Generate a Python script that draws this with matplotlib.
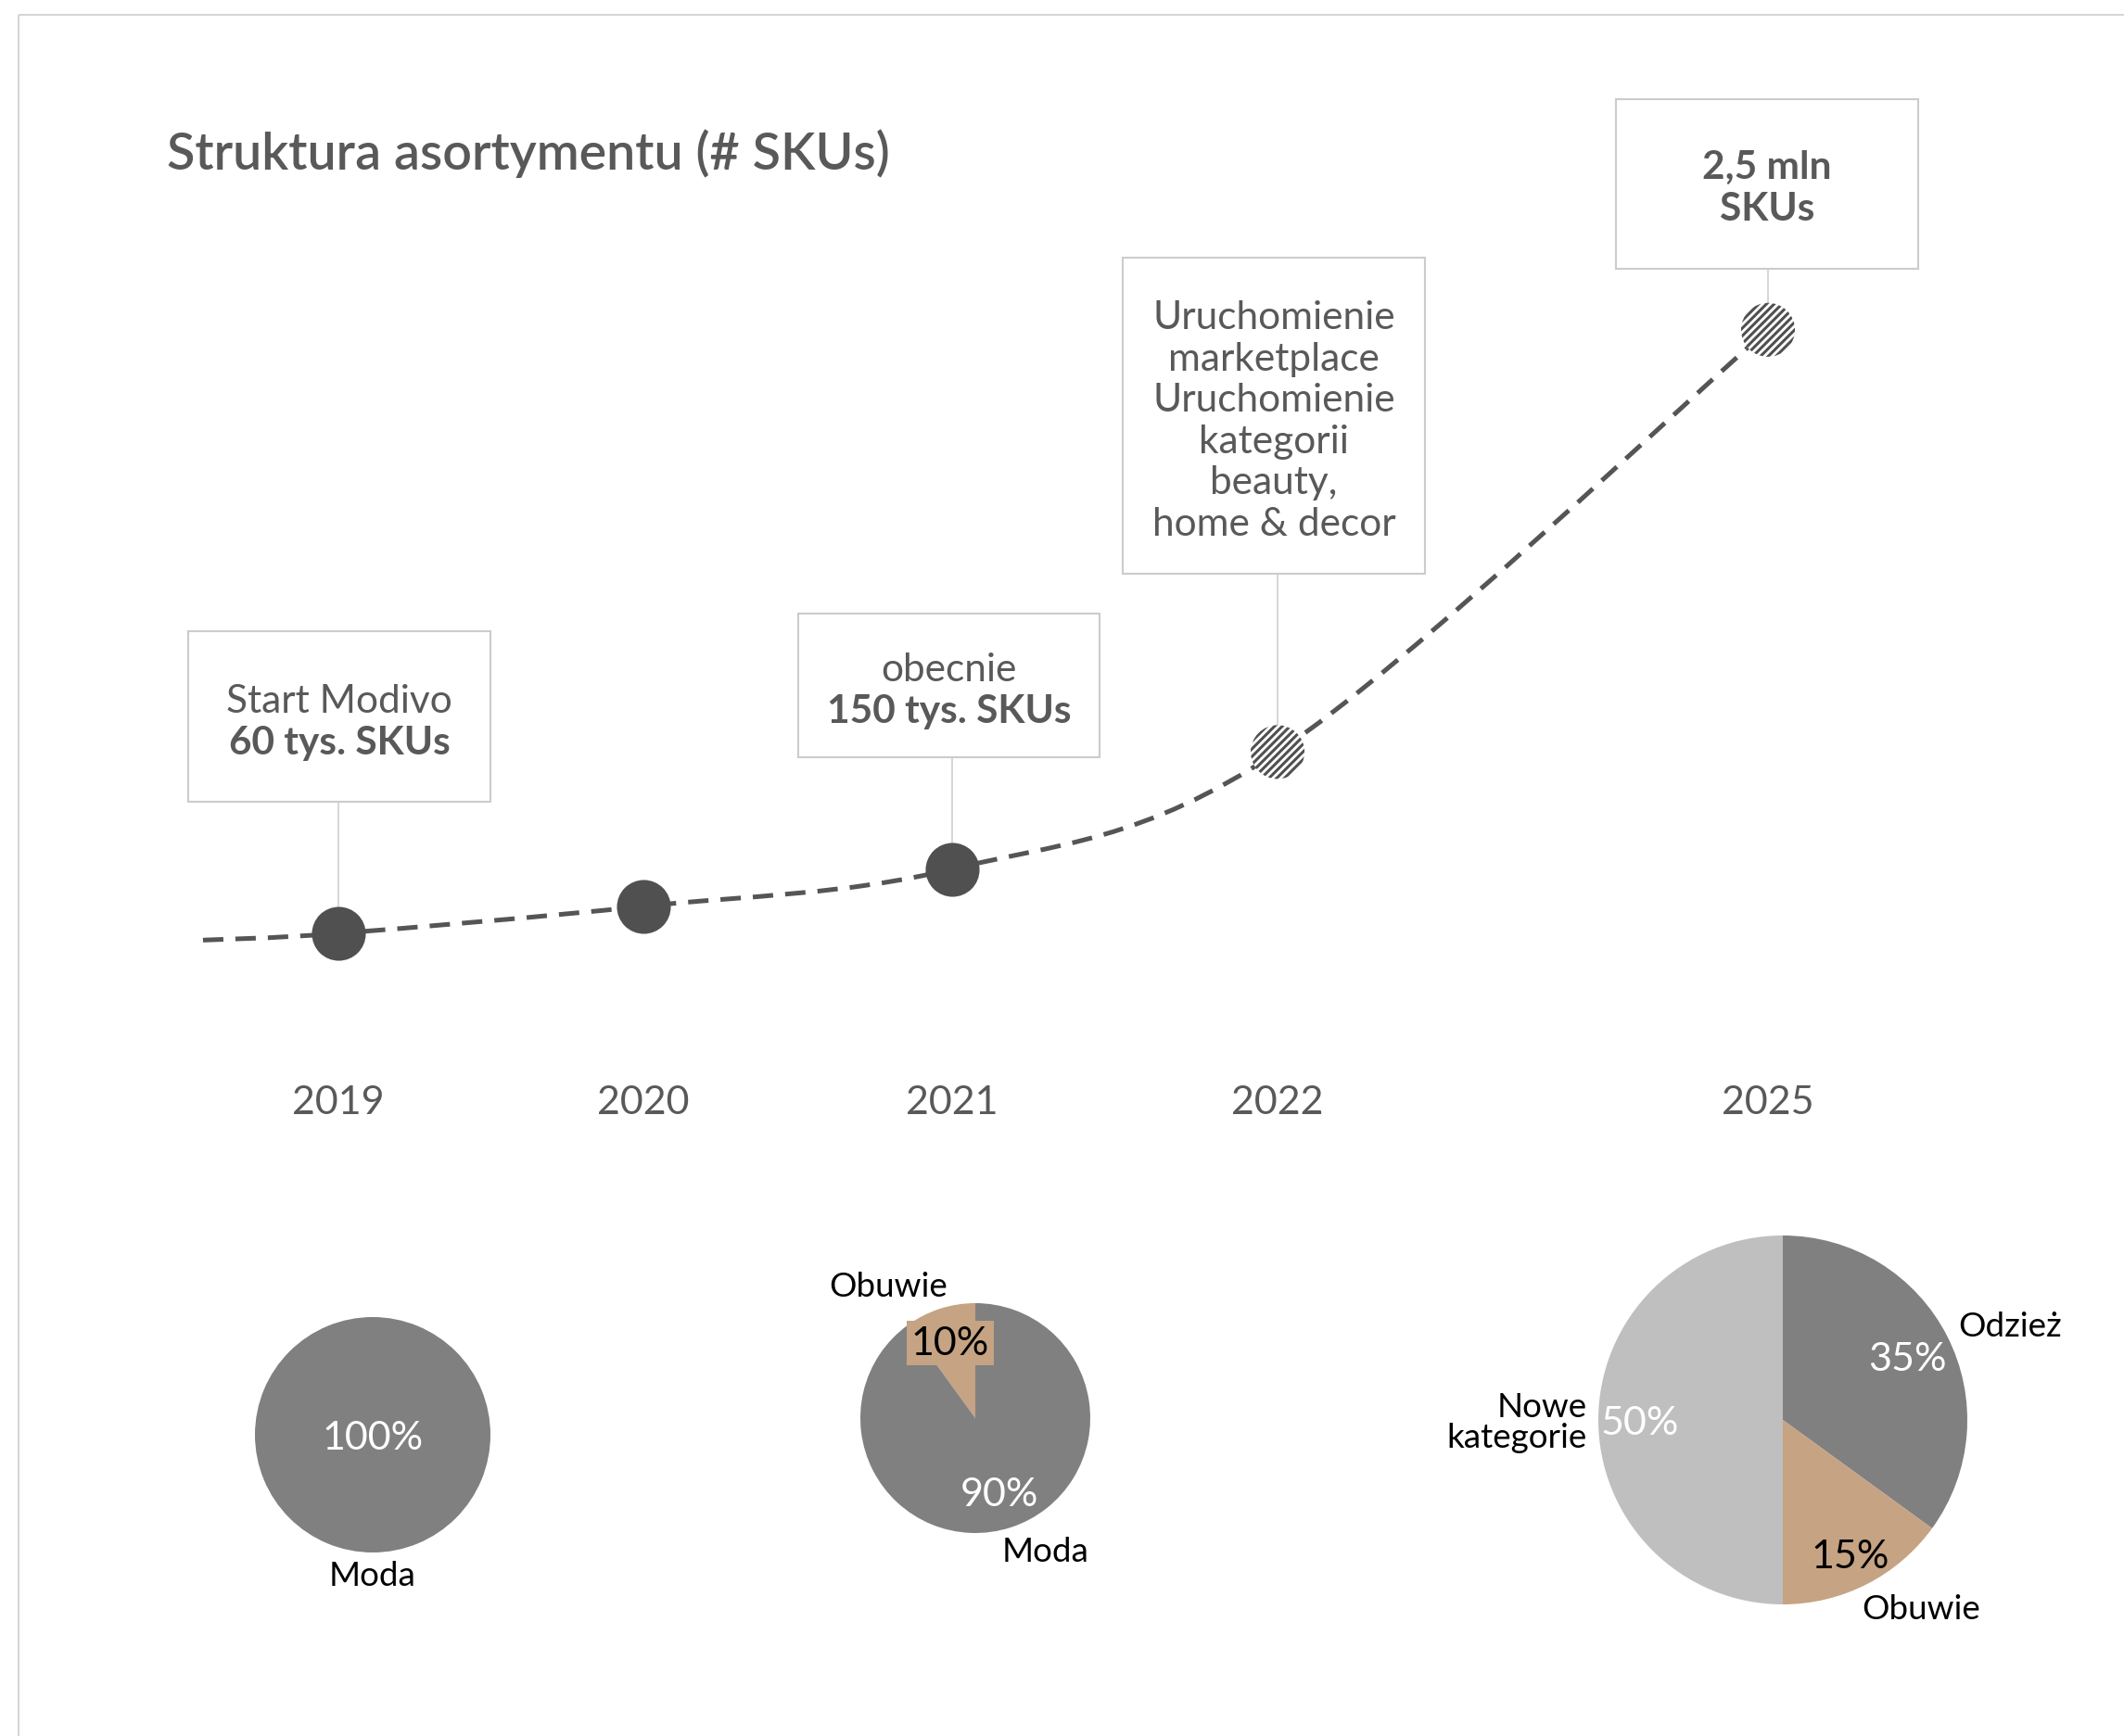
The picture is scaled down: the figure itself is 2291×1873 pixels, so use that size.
import numpy as np
import matplotlib
matplotlib.use("Agg")
import matplotlib.pyplot as plt
from matplotlib.path import Path
from matplotlib.patches import PathPatch, Rectangle
from matplotlib.transforms import Affine2D

plt.rcParams["font.family"] = ["Lato", "DejaVu Sans"]
plt.rcParams["hatch.linewidth"] = 2.2

# timeline data (level = relative assortment size used for the curve)
years = ["2019", "2020", "2021", "2022", "2025"]
levels = [1.0, 1.40, 1.95, 3.68, 9.92]
planned = [False, False, False, True, True]
lead_in_level = 0.90

# callouts above the timeline
callout_years = ["2019", "2021", "2022", "2025"]
callout_lines = [
    [("Start Modivo", "normal"), ("60 tys. SKUs", "bold")],
    [("obecnie", "normal"), ("150 tys. SKUs", "bold")],
    [("Uruchomienie", "normal"), ("marketplace", "normal"), ("Uruchomienie", "normal"),
     ("kategorii", "normal"), ("beauty,", "normal"), ("home & decor", "normal")],
    [("2,5 mln", "bold"), ("SKUs", "bold")],
]

# assortment mix per year
mix_2019_labels = ["Moda"]
mix_2019_shares = [100]
mix_2021_labels = ["Obuwie", "Moda"]
mix_2021_shares = [10, 90]
mix_2025_labels = ["Odzież", "Obuwie", "Nowe\nkategorie"]
mix_2025_shares = [35, 15, 50]

DARK = "#505050"
TEXT = "#595959"
GREY = "#808080"
TAN = "#c5a383"
LIGHT = "#bfbfbf"
LINE = "#cccccc"

W, H = 2291, 1874
fig = plt.figure(figsize=(W / 100, H / 100), dpi=100)
fig.patch.set_facecolor("white")

# pixel-space transform (origin top-left) for layout elements
px = Affine2D().scale(1 / W, -1 / H).translate(0, 1) + fig.transFigure

# outer frame
fig.patches.append(Rectangle((20, 17), 2400, 2000, transform=px, fill=False,
                             edgecolor="#d6d6d6", linewidth=1.5))

fig.text(180, 166, "Struktura asortymentu (# SKUs)", transform=px, fontsize=40,
         fontweight="semibold", color=TEXT, ha="left", va="center")

# timeline axes: x in slots, y in levels
ax = fig.add_axes([0, 0, 1, 1])
ax.set_xlim(-365 / 335, (W - 365) / 335)
ax.set_ylim((1081 - H) / 73, 1081 / 73)
ax.axis("off")

slot_x = [0.0, 0.982, 1.976, 3.024, 4.603]
lead_in_x = -0.436

# smooth dashed curve through the points (Catmull-Rom as cubic Beziers)
pts = np.array([(lead_in_x, lead_in_level)] + list(zip(slot_x, levels)))
ext = np.vstack([pts[0], pts, pts[-1]])
verts = [tuple(pts[0])]
codes = [Path.MOVETO]
for i in range(1, len(ext) - 2):
    p0, p1, p2, p3 = ext[i - 1], ext[i], ext[i + 1], ext[i + 2]
    c1 = p1 + (p2 - p0) / 6
    c2 = p2 - (p3 - p1) / 6
    verts += [tuple(c1), tuple(c2), tuple(p2)]
    codes += [Path.CURVE4] * 3
ax.add_patch(PathPatch(Path(verts, codes), fill=False, edgecolor="#555555",
                       linewidth=3.6, linestyle=(0, (4.4, 2.6)), zorder=2))

for x, y, fut in zip(slot_x, levels, planned):
    if fut:
        ax.scatter([x], [y], s=1750, facecolor="white", edgecolor=DARK,
                   hatch="////", linewidths=0, zorder=4)
    else:
        ax.scatter([x], [y], s=1750, color=DARK, linewidths=0, zorder=4)

for x, yr in zip(slot_x, years):
    ax.text(x, (1081 - 1190) / 73, yr, fontsize=31, color=TEXT,
            ha="center", va="center")

# callout boxes: left, top, right, bottom in pixels, first text line y
boxes = [(203, 682, 529, 866, 757), (861, 663, 1186, 818, 723),
         (1211, 279, 1537, 620, 343), (1743, 108, 2069, 291, 181)]
inv = ax.transData.inverted()
for yr, lines, (l, t, r, b, y0) in zip(callout_years, callout_lines, boxes):
    fig.patches.append(Rectangle((l, t), r - l, b - t, transform=px,
                                 facecolor="white", edgecolor=LINE, linewidth=1.5,
                                 zorder=3))
    cx = (l + r) / 2
    for k, (txt, wt) in enumerate(lines):
        fig.text(cx, y0 + k * 44.6, txt, transform=px, fontsize=30.5, fontweight=wt,
                 color=TEXT, ha="center", va="center", zorder=5)
    i = years.index(yr)
    b_level = inv.transform((0, H - b))[1]
    ax.plot([slot_x[i], slot_x[i]], [levels[i], b_level], color=LINE,
            linewidth=1.1, zorder=1)


def pie_axes(cx, cy, r):
    a = fig.add_axes([(cx - r) / W, 1 - (cy + r) / H, 2 * r / W, 2 * r / H])
    a.axis("off")
    return a


def fit(a):
    a.set_xlim(-1, 1)
    a.set_ylim(-1, 1)


def label(x, y, s, color="black", size=26.5, **kw):
    fig.text(x, y + 3, s, transform=px, fontsize=size, color=color,
             ha=kw.pop("ha", "center"), va="center", zorder=6, **kw)


PCT = 31

# 2019
p1 = pie_axes(402, 1549, 127)
p1.pie(mix_2019_shares, colors=[GREY], startangle=90, radius=1,
       wedgeprops=dict(linewidth=0))
fit(p1)
label(402, 1549, f"{mix_2019_shares[0]}%", color="white", size=PCT)
label(402, 1698, mix_2019_labels[0])

# 2021
p2 = pie_axes(1052, 1531, 124)
p2.pie(mix_2021_shares, colors=[TAN, GREY], startangle=90, counterclock=True,
       radius=1, wedgeprops=dict(linewidth=0))
fit(p2)
label(1025, 1447, f"{mix_2021_shares[0]}%", size=PCT,
      bbox=dict(boxstyle="square,pad=0.12", facecolor=TAN, edgecolor="none"))
label(958, 1386, mix_2021_labels[0])
label(1078, 1610, f"{mix_2021_shares[1]}%", color="white", size=PCT)
label(1128, 1672, mix_2021_labels[1])

# 2025
p3 = pie_axes(1923, 1533, 199)
p3.pie(mix_2025_shares, colors=[GREY, TAN, LIGHT], startangle=90,
       counterclock=False, radius=1, wedgeprops=dict(linewidth=0))
fit(p3)
label(2057, 1464, f"{mix_2025_shares[0]}%", color="white", size=PCT)
label(2168, 1429, mix_2025_labels[0])
label(1996, 1677, f"{mix_2025_shares[1]}%", size=PCT)
label(2072, 1734, mix_2025_labels[1])
label(1769, 1533, f"{mix_2025_shares[2]}%", color="white", size=PCT)
label(1712, 1532, mix_2025_labels[2], ha="right", linespacing=1.0,
      multialignment="right")

fig.savefig("out.png", dpi=100, facecolor="white")
